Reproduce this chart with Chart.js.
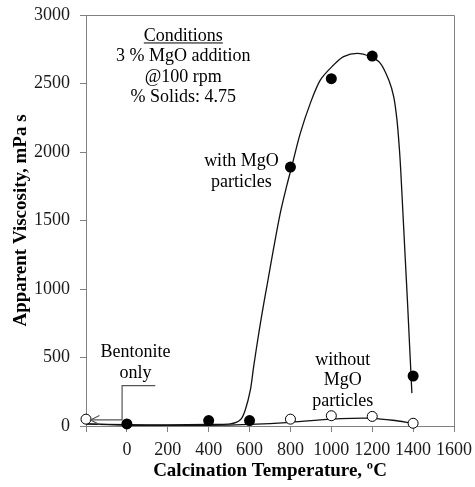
<!DOCTYPE html>
<html>
<head>
<meta charset="utf-8">
<script src="https://cdn.jsdelivr.net/npm/chart.js@4.4.1/dist/chart.umd.min.js"></script>
<style>
  html, body { margin: 0; padding: 0; background: #ffffff; }
  #wrap { width: 475px; height: 487px; }
</style>
</head>
<body>
<div id="wrap"><canvas id="c" width="475" height="487"></canvas></div>
<script>
// Measured apparent viscosity (mPa s) against calcination temperature (°C)
const measuredTemps = [0, 400, 600, 800, 1000, 1200, 1400];
const withMgO = [15, 40, 40, 1890, 2535, 2700, 365];
const plainTemps = [-200, 800, 1000, 1200, 1400];   // -200 slot holds the bentonite-only sample
const withoutMgO = [50, 50, 75, 70, 20];

// Smoothed trend curves through each series
const withFitTemps  = [-200, 0, 200, 400, 506, 555, 579, 604, 620, 645, 669, 686, 718, 751, 783, 804, 848, 897, 946, 1011, 1060, 1126, 1191, 1240, 1281, 1305, 1321, 1333, 1340, 1350, 1362, 1373, 1383, 1394];
const withFitValues = [15, 10, 8, 12, 15, 45, 117, 263, 433, 676, 890, 1030, 1300, 1560, 1760, 1880, 2136, 2355, 2525, 2635, 2696, 2720, 2696, 2647, 2525, 2404, 2234, 2020, 1850, 1560, 1210, 890, 580, 240];
const withoutFitTemps  = [-200, 0, 400, 600, 800, 1000, 1100, 1200, 1300, 1400];
const withoutFitValues = [15, 5, 5, 12, 27, 50, 56, 56, 42, 20];

const xTicks = [-200, 0, 200, 400, 600, 800, 1000, 1200, 1400, 1600];
const yTicks = [0, 500, 1000, 1500, 2000, 2500, 3000];

const toPoints = (xs, ys) => xs.map((x, i) => ({ x: x, y: ys[i] }));

const SERIF = '"Liberation Serif", "Times New Roman", serif';
const AXIS_GREY = '#808080';

// Text notes placed in data space (x in °C, y in mPa s of the first line)
const notes = [
  { lines: ['Conditions', '3 % MgO addition', '@100 rpm', '% Solids: 4.75'], x: 276, y: 2847, underlineFirst: true },
  { lines: ['with MgO', 'particles'], x: 560, y: 1929 },
  { lines: ['without', 'MgO', 'particles'], x: 1056, y: 482 },
  { lines: ['Bentonite', 'only'], x: 42, y: 535 }
];
// Leader from the "Bentonite only" label to its marker
const leader = [[139, 294], [-23.5, 294], [-23.5, 44], [-178, 44]];

const decorations = {
  id: 'decorations',
  afterDraw(chart) {
    const { ctx, chartArea: a, scales: { x, y } } = chart;
    ctx.save();
    // frame: top and right sides
    ctx.strokeStyle = AXIS_GREY;
    ctx.lineWidth = 1;
    ctx.beginPath();
    ctx.moveTo(a.left, a.top + 0.5);
    ctx.lineTo(a.right + 0.5, a.top + 0.5);
    ctx.lineTo(a.right + 0.5, a.bottom);
    ctx.stroke();

    // notes
    ctx.fillStyle = '#000';
    ctx.font = '18px ' + SERIF;
    ctx.textAlign = 'center';
    ctx.textBaseline = 'middle';
    const step = 20.5;
    notes.forEach(n => {
      const px = x.getPixelForValue(n.x);
      const py = y.getPixelForValue(n.y);
      n.lines.forEach((t, i) => {
        ctx.fillText(t, px, py + i * step);
        if (i === 0 && n.underlineFirst) {
          const w = ctx.measureText(t).width;
          ctx.fillRect(px - w / 2, py + 6.5, w, 1);
        }
      });
    });

    // leader line with open arrowhead
    ctx.strokeStyle = '#555';
    ctx.lineWidth = 1.2;
    ctx.beginPath();
    leader.forEach((p, i) => {
      const px = x.getPixelForValue(p[0]);
      const py = y.getPixelForValue(p[1]);
      if (i === 0) ctx.moveTo(px, py); else ctx.lineTo(px, py);
    });
    ctx.stroke();
    const tip = leader[leader.length - 1];
    const tx = x.getPixelForValue(tip[0]);
    const ty = y.getPixelForValue(tip[1]);
    ctx.beginPath();
    ctx.moveTo(tx + 9, ty - 4.5);
    ctx.lineTo(tx, ty);
    ctx.lineTo(tx + 9, ty + 4.5);
    ctx.stroke();
    ctx.restore();
  }
};

new Chart(document.getElementById('c'), {
  type: 'scatter',
  data: {
    datasets: [
      {
        label: 'with MgO trend',
        data: toPoints(withFitTemps, withFitValues),
        showLine: true,
        borderColor: '#111',
        borderWidth: 1.3,
        pointRadius: 0,
        tension: 0.3,
        order: 4
      },
      {
        label: 'without MgO trend',
        data: toPoints(withoutFitTemps, withoutFitValues),
        showLine: true,
        borderColor: '#111',
        borderWidth: 1.3,
        pointRadius: 0,
        tension: 0.3,
        order: 3
      },
      {
        label: 'with MgO particles',
        data: toPoints(measuredTemps, withMgO),
        showLine: false,
        pointRadius: 5.5,
        pointBackgroundColor: '#000',
        pointBorderColor: '#000',
        pointBorderWidth: 0,
        clip: false,
        order: 1
      },
      {
        label: 'without MgO particles',
        data: toPoints(plainTemps, withoutMgO),
        showLine: false,
        pointRadius: 5,
        pointBackgroundColor: '#fff',
        pointBorderColor: '#000',
        pointBorderWidth: 1,
        clip: false,
        order: 2
      }
    ]
  },
  options: {
    responsive: false,
    animation: false,
    events: [],
    layout: { padding: { top: 15, right: 21, left: 0, bottom: 0 } },
    plugins: { legend: { display: false }, tooltip: { enabled: false } },
    scales: {
      x: {
        type: 'linear',
        min: -200,
        max: 1600,
        afterBuildTicks: s => { s.ticks = xTicks.map(v => ({ value: v })); },
        afterFit: s => { s.height = 61; s.paddingLeft = 0; s.paddingRight = 0; },
        ticks: {
          callback: v => (v === -200 ? '' : String(v)),
          color: '#1a1a1a',
          font: { family: SERIF, size: 18 },
          padding: 7,
          maxRotation: 0,
          autoSkip: false
        },
        grid: { drawOnChartArea: false, drawTicks: true, tickLength: 6, color: AXIS_GREY },
        border: { display: true, color: AXIS_GREY },
        title: {
          display: true,
          text: 'Calcination Temperature, ºC',
          color: '#000',
          font: { family: SERIF, size: 19, weight: 'bold' },
          padding: { top: 0, bottom: 5 }
        }
      },
      y: {
        type: 'linear',
        min: 0,
        max: 3000,
        afterBuildTicks: s => { s.ticks = yTicks.map(v => ({ value: v })); },
        afterFit: s => { s.width = 86; s.paddingTop = 0; s.paddingBottom = 0; },
        ticks: {
          callback: v => String(v),
          color: '#1a1a1a',
          font: { family: SERIF, size: 18 },
          padding: 10
        },
        grid: { drawOnChartArea: false, drawTicks: true, tickLength: 6, color: AXIS_GREY },
        border: { display: true, color: AXIS_GREY },
        title: {
          display: true,
          text: 'Apparent Viscosity, mPa s',
          color: '#000',
          font: { family: SERIF, size: 19, weight: 'bold' },
          padding: { top: 10, bottom: 0 }
        }
      }
    }
  },
  plugins: [decorations]
});
</script>
</body>
</html>
